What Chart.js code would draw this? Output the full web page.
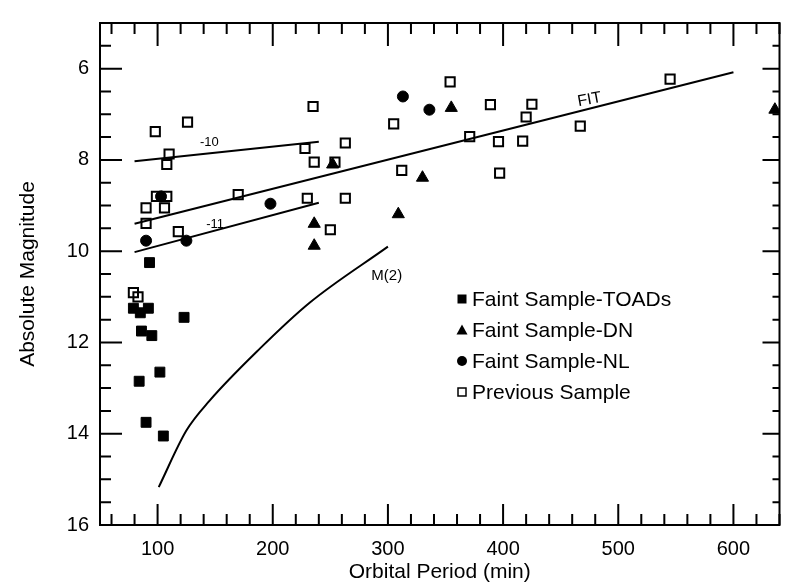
<!DOCTYPE html>
<html>
<head>
<meta charset="utf-8">
<script src="https://cdn.jsdelivr.net/npm/chart.js@4.4.0/dist/chart.umd.min.js"></script>
<style>
  html, body { margin: 0; padding: 0; background: #fff; }
  #wrap { width: 788px; height: 585px; }
</style>
</head>
<body>
<div id="wrap"><canvas id="magChart" width="788" height="585"></canvas></div>
<script>
// values: orbital period (min) and absolute magnitude
var toadsPeriod = [93, 79, 85, 92, 123, 86, 95, 102, 84, 90, 105];
var toadsMag    = [10.25, 11.25, 11.35, 11.25, 11.45, 11.75, 11.85, 12.65, 12.85, 13.75, 14.05];

var dnPeriod = [252, 236, 236, 309, 330, 355, 636];
var dnMag    = [8.1, 9.4, 9.88, 9.19, 8.39, 6.86, 6.9];

var nlPeriod = [103, 90, 125, 198, 313, 336];
var nlMag    = [8.8, 9.77, 9.77, 8.96, 6.61, 6.9];

var prevPeriod = [98, 126, 235, 110, 108, 228, 236, 99, 108, 90, 106, 90, 170, 230, 118, 79, 83,
                  354, 389, 305, 263, 254, 371, 396, 397, 312, 263, 250, 425, 420, 467, 545, 417];
var prevMag    = [7.38, 7.17, 6.83, 7.87, 8.1, 7.75, 8.05, 8.8, 8.8, 9.05, 9.05, 9.39, 8.76, 8.84, 9.57, 10.91, 11.0,
                  6.29, 6.79, 7.21, 7.63, 8.05, 7.49, 7.6, 8.29, 8.23, 8.84, 9.53, 6.78, 7.06, 7.26, 6.23, 7.59];

// reference lines
var fitPeriod = [80, 600];
var fitMag    = [9.4, 6.08];
var m10Period = [80, 240];
var m10Mag    = [8.03, 7.6];
var m11Period = [80, 240];
var m11Mag    = [10.02, 8.94];
var m2Period  = [101, 125, 145, 189, 232, 300];
var m2Mag     = [15.17, 13.93, 13.28, 12.13, 11.13, 9.9];

var xTickLabels = [100, 200, 300, 400, 500, 600];
var yTickLabels = [6, 8, 10, 12, 14, 16];

var seriesNames = ['Faint Sample-TOADs', 'Faint Sample-DN', 'Faint Sample-NL', 'Previous Sample'];

// text labels on the lines: [text, period, magnitude]
var lineLabels = [['FIT', 475, 6.68], ['-10', 145, 7.62], ['-11', 150, 9.42], ['M(2)', 299, 10.55]];

function pts(xs, ys) {
    var out = [];
    for (var i = 0; i < xs.length; i++) out.push({x: xs[i], y: ys[i]});
    return out;
}

function lineSet(xs, ys, smooth) {
    return {
        type: 'line',
        data: pts(xs, ys),
        showLine: true,
        borderColor: '#000',
        borderWidth: 2,
        pointRadius: 0,
        fill: false,
        tension: smooth ? 0.4 : 0,
        cubicInterpolationMode: smooth ? 'monotone' : 'default'
    };
}

var frameTicks = {
    id: 'frameTicks',
    afterDatasetsDraw: function(chart) {
        var ctx = chart.ctx, a = chart.chartArea;
        var x = chart.scales.x, y = chart.scales.y;
        ctx.save();
        ctx.strokeStyle = '#000';
        ctx.lineWidth = 2;
        ctx.strokeRect(a.left, a.top, a.right - a.left, a.bottom - a.top);
        ctx.beginPath();
        for (var v = 60; v <= 640; v += 20) {
            var px = x.getPixelForValue(v);
            var major = v % 100 === 0;
            ctx.moveTo(px, a.bottom); ctx.lineTo(px, a.bottom - (major ? 21 : 11));
            ctx.moveTo(px, a.top); ctx.lineTo(px, a.top + (major ? 23 : 11));
        }
        for (var m = 5.5; m < 16; m += 0.5) {
            var py = y.getPixelForValue(m);
            var big = m % 2 === 0;
            ctx.moveTo(a.left, py); ctx.lineTo(a.left + (big ? 22 : 11), py);
            ctx.moveTo(a.right, py); ctx.lineTo(a.right - (big ? 17 : 7), py);
        }
        ctx.stroke();

        // labels on the lines
        ctx.fillStyle = '#000';
        ctx.textAlign = 'center';
        ctx.textBaseline = 'middle';
        lineLabels.forEach(function(l) {
            var lx = x.getPixelForValue(l[1]), ly = y.getPixelForValue(l[2]);
            ctx.save();
            ctx.translate(lx, ly);
            if (l[0] === 'FIT') {
                ctx.rotate(-0.18);
                ctx.font = '16px "Liberation Sans", Arial, sans-serif';
            } else if (l[0] === 'M(2)') {
                ctx.font = '15px "Liberation Sans", Arial, sans-serif';
            } else {
                ctx.font = '13px "Liberation Sans", Arial, sans-serif';
            }
            ctx.fillText(l[0], 0, 0);
            ctx.restore();
        });

        // legend inside the plot
        var rows = [299, 330, 361, 392];
        var mx = 462;
        ctx.font = '21px "Liberation Sans", Arial, sans-serif';
        ctx.textAlign = 'left';
        for (var i = 0; i < seriesNames.length; i++) {
            var ry = rows[i];
            ctx.beginPath();
            if (i === 0) {
                ctx.fillRect(mx - 4.5, ry - 4.5, 9, 9);
            } else if (i === 1) {
                ctx.moveTo(mx, ry - 5.5); ctx.lineTo(mx + 5.5, ry + 4.5); ctx.lineTo(mx - 5.5, ry + 4.5);
                ctx.closePath(); ctx.fill();
            } else if (i === 2) {
                ctx.arc(mx, ry, 5, 0, Math.PI * 2); ctx.fill();
            } else {
                ctx.lineWidth = 1.5;
                ctx.strokeRect(mx - 4, ry - 4, 8, 8);
            }
            ctx.fillText(seriesNames[i], mx + 10, ry + 1);
        }
        ctx.restore();
    }
};

var ctx = document.getElementById('magChart').getContext('2d');
var tickFont = {family: '"Liberation Sans", Arial, sans-serif', size: 20};

new Chart(ctx, {
    type: 'scatter',
    data: {
        datasets: [
            lineSet(fitPeriod, fitMag, false),
            lineSet(m10Period, m10Mag, false),
            lineSet(m11Period, m11Mag, false),
            lineSet(m2Period, m2Mag, true),
            {
                label: seriesNames[0], data: pts(toadsPeriod, toadsMag),
                pointStyle: 'rect', pointRadius: 7, backgroundColor: '#000', borderColor: '#000', borderWidth: 1
            },
            {
                label: seriesNames[1], data: pts(dnPeriod, dnMag),
                pointStyle: 'triangle', pointRadius: 7, backgroundColor: '#000', borderColor: '#000', borderWidth: 1
            },
            {
                label: seriesNames[2], data: pts(nlPeriod, nlMag),
                pointStyle: 'circle', pointRadius: 5.5, backgroundColor: '#000', borderColor: '#000', borderWidth: 1
            },
            {
                label: seriesNames[3], data: pts(prevPeriod, prevMag),
                pointStyle: 'rect', pointRadius: 6.5, backgroundColor: 'rgba(0,0,0,0)', borderColor: '#000', borderWidth: 2
            }
        ]
    },
    options: {
        responsive: false,
        animation: false,
        devicePixelRatio: 1,
        layout: { padding: { top: 15, right: 5, left: 0, bottom: 0 } },
        plugins: { legend: { display: false }, tooltip: { enabled: false } },
        scales: {
            x: {
                type: 'linear', min: 50, max: 640,
                afterBuildTicks: function(s) { s.ticks = xTickLabels.map(function(v) { return {value: v}; }); },
                afterFit: function(s) { s.height = 60; },
                grid: { display: false, drawTicks: false },
                border: { display: false },
                ticks: { font: tickFont, color: '#000', padding: 12, maxRotation: 0 },
                title: { display: true, text: 'Orbital Period (min)', color: '#000',
                         font: {family: '"Liberation Sans", Arial, sans-serif', size: 21}, padding: {top: 0, bottom: 0} }
            },
            y: {
                min: 5, max: 16, reverse: true,
                afterBuildTicks: function(s) { s.ticks = yTickLabels.map(function(v) { return {value: v}; }); },
                afterFit: function(s) { s.width = 100; },
                grid: { display: false, drawTicks: false },
                border: { display: false },
                ticks: { font: tickFont, color: '#000', padding: 11 },
                title: { display: true, text: 'Absolute Magnitude', color: '#000',
                         font: {family: '"Liberation Sans", Arial, sans-serif', size: 21}, padding: {top: 16, bottom: 0} }
            }
        }
    },
    plugins: [frameTicks]
});
</script>
</body>
</html>
